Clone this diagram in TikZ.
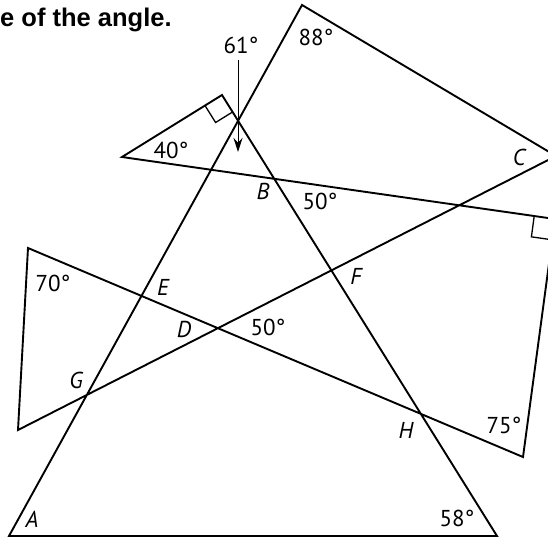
\documentclass[tikz,border=0pt]{standalone}
\usepackage{fontspec}
\setmainfont{PT Sans}
\newfontfamily\headfont{Liberation Sans}
\usetikzlibrary{arrows.meta,calc}
\begin{document}
\begin{tikzpicture}[x=1pt,y=-1pt,
  edge/.style={line width=1.9pt,line join=miter},
  lbl/.style={inner sep=0pt,font=\fontsize{23}{23}\selectfont},
  pt/.style={inner sep=0pt,font=\fontsize{23}{23}\selectfont\itshape},
  sq/.style={line width=1.3pt}]
\useasboundingbox (0,0) rectangle (548,538);
\begin{scope}
\clip (0,0) rectangle (548,538);
% vertices of the closed figure
\coordinate (A) at (9,536);
\coordinate (P) at (302,5);
\coordinate (C) at (556,156);
\coordinate (S) at (18,430);
\coordinate (T) at (28,248);
\coordinate (U) at (523,457);
\coordinate (V) at (555,219);
\coordinate (W) at (122,157);
\coordinate (Q) at (222,95);
\coordinate (R) at (497,536);
\draw[edge] (A) -- (P) -- (C) -- (S) -- (T) -- (U) -- (V) -- (W) -- (Q) -- (R) -- cycle;
% right-angle marks
\draw[sq] ($(Q)!20pt!(W)$) -- ($(Q)!20pt!(W)+(Q)!20pt!(R)-(Q)$) -- ($(Q)!20pt!(R)$);
\draw[sq] ($(V)!21pt!(W)$) -- ($(V)!21pt!(W)+(V)!21pt!(U)-(V)$) -- ($(V)!21pt!(U)$);
\end{scope}
% heading
\node[inner sep=0pt,anchor=base west,font=\headfont\bfseries\fontsize{25.5}{25.5}\selectfont] (head) at (0,26) {e of the angle.};
% arrow for 61
\coordinate (arrtop) at (238,60);
\coordinate (arrtip) at (238,152);
\draw[line width=1pt,-{Stealth[length=14pt,width=9pt]}] (arrtop) -- (arrtip);
% labels
\node[lbl] (l61) at (241,45) {61°};
\node[lbl] (l40) at (171,150) {40°};
\node[lbl] (l88) at (316,37) {88°};
\node[pt] (lC) at (519,157) {C};
\node[pt] (lB) at (263,191) {B};
\node[lbl] (l50a) at (320,201) {50°};
\node[pt] (lF) at (356,276) {F};
\node[pt] (lE) at (163,287) {E};
\node[lbl] (l70) at (53,283) {70°};
\node[pt] (lD) at (184,329) {D};
\node[lbl] (l50b) at (268,327) {50°};
\node[pt] (lG) at (76,380) {G};
\node[pt] (lH) at (406,430) {H};
\node[lbl] (l75) at (504,425) {75°};
\node[lbl] (l58) at (457,518) {58°};
\node[pt] (lA) at (32,519) {A};
\end{tikzpicture}
\end{document}
